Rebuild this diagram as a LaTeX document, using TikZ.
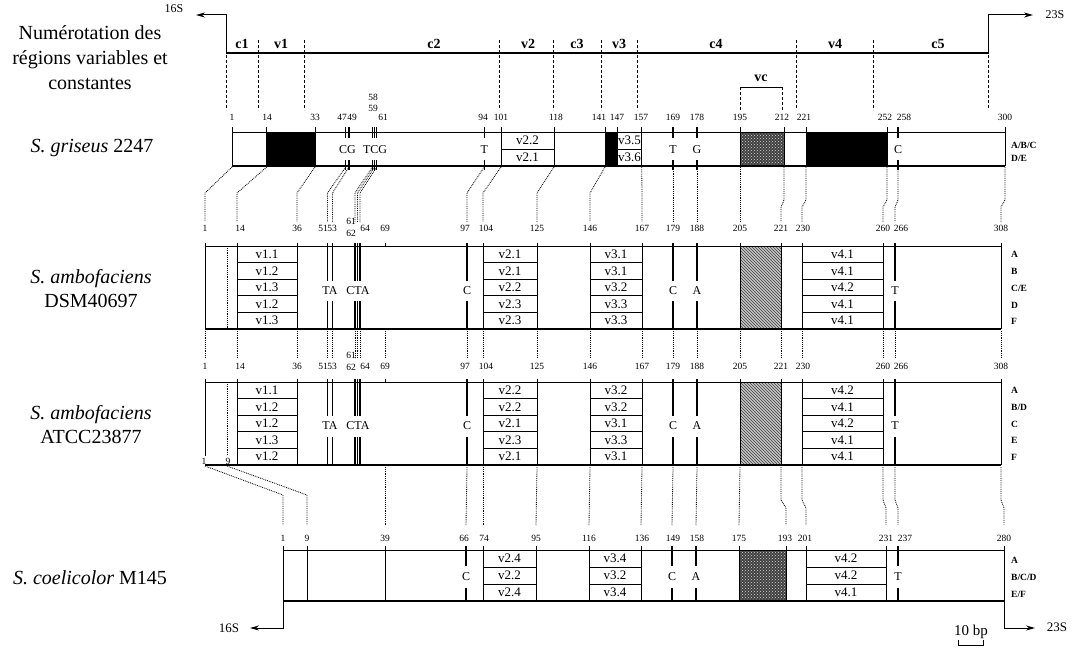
\documentclass[tikz,border=0pt]{standalone}
\usepackage{fontspec}
\setmainfont{Liberation Serif}
\usetikzlibrary{arrows.meta,patterns}
\tikzset{
  box/.style={line width=0.8pt},
  botline/.style={line width=1.5pt},
  siteline/.style={line width=1.1pt},
  conn/.style={densely dotted, line width=0.85pt},
  sep/.style={densely dashed, line width=0.6pt},
  num/.style={font=\fontsize{9.5}{9.5}\selectfont, inner sep=0pt},
  vlab/.style={font=\fontsize{13}{13}\selectfont, inner sep=0pt},
  sitelab/.style={font=\fontsize{12}{12}\selectfont, inner sep=0pt, fill=white, inner ysep=2pt},
  rowlab/.style={font=\fontsize{9.5}{9.5}\selectfont\bfseries, inner sep=0pt, anchor=west},
  reglab/.style={font=\fontsize{14}{14}\selectfont\bfseries, inner sep=0pt, anchor=base},
  species/.style={font=\fontsize{20}{24}\selectfont, inner sep=0pt, align=center},
  genelab/.style={font=\fontsize{12}{12}\selectfont, inner sep=0pt},
  arr/.style={line width=1pt, -{Stealth[length=9pt,width=5pt]}},
}
\newcommand{\regbox}[6]{%
  \foreach \lab [count=\i from 0] in {#5}{%
    \draw[box] (#1,{#3+\i*#4}) rectangle (#2,{#3+(\i+1)*#4});
    \node[vlab] (#6\i) at ({(#1+#2)/2},{#3+(\i+0.5)*#4}) {\lab};
  }}
\begin{document}
\begin{tikzpicture}[x=1pt,y=-1pt]
\useasboundingbox (0,0) rectangle (1073,650);

% ---------- header ----------
\node[species, font=\fontsize{20}{25}\selectfont] (hdr) at (90,58) {Numérotation des\\régions variables et\\constantes};
\draw[line width=2.2pt] (226,53) -- (988,53);
\coordinate (t16) at (196,15);
\coordinate (t23) at (1033,15);
\draw[arr] (226,54) -- (226,15) -- (t16);
\draw[arr] (988,54) -- (988,15) -- (t23);
\node[genelab, font=\fontsize{12}{12}\selectfont] (l16t) at (174,9) {16S};
\node[genelab] (l23t) at (1055,15) {23S};
\foreach \x in {226,258,304,499,553,601,637,796,873,988}
  \draw[sep] (\x,40) -- (\x,110);
\foreach \x/\t/\n in {242/c1/rc1,281/v1/rv1,434/c2/rc2,528/v2/rv2,577/c3/rc3,619/v3/rv3,716/c4/rc4,835/v4/rv4,938/c5/rc5}
  \node[reglab] (\n) at (\x,49) {\t};
\draw[line width=0.7pt] (740,87) -- (782,87);
\draw[sep] (740,87) -- (740,110) (782,87) -- (782,110);
\node[reglab] (rvc) at (761,82) {vc};

% ---------- S. griseus ----------
\node[species] (sg) at (92,148) {\textit{S. griseus} 2247};
\fill (266.7,132) rectangle (315,166);
\fill (605,132) rectangle (617,166);
\fill (806,132) rectangle (887,166);
\fill[black!75] (740,132) rectangle (784,166);
\fill[pattern=crosshatch dots, pattern color=white!85!black] (740,132) rectangle (784,166);
\draw[box] (232,132) -- (1005,132);
\draw[botline] (232,166) -- (1005,166);
\foreach \x in {232,266.7,315,501,554,605,617,641.7,740,784,806,887,1005}
  \draw[box] (\x,127) -- (\x,166);
\draw[box] (501,149) -- (554,149);
\draw[box] (617,149) -- (641.7,149);
\node[vlab] (g22) at (527.5,140.5) {v2.2};
\node[vlab] (g21) at (527.5,157.5) {v2.1};
\node[vlab] (g35) at (629.5,140.5) {v3.5};
\node[vlab] (g36) at (629.5,157.5) {v3.6};
\foreach \x in {345.7,349,372.5,374.5,376.7,484.3,673,697,898}
  \draw[siteline] (\x,127) -- (\x,138) (\x,160) -- (\x,170);
\foreach \x/\t/\n in {347.5/CG/gs1,375/TCG/gs2,484.3/T/gs3,673/T/gs4,697/G/gs5,898/C/gs6}
  \node[sitelab] (\n) at (\x,150) {\t};
\foreach \x/\t in {232/1,267/14,315/33,342/47,352/49,383/61,483/94,501/101,556/118,599/141,617/147,641/157,673/169,697/178,740/195,782/212,804/221,885/252,904/258,1005/300}
  \node[num] (gn\t) at (\x,117) {\t};
\node[num] (gn58) at (373,97) {58};
\node[num] (gn59) at (373,108) {59};
\node[rowlab] (gr1) at (1011,145) {A/B/C};
\node[rowlab] (gr2) at (1011,158) {D/E};

% connectors griseus -> DSM
\foreach \a/\b in {232/205,266.7/237,315/297,345.7/327.5,349/332.5,372.5/355,374.5/357.5,376.7/360,484.3/467,501/483,554/537,605/590,641.7/642,673/673,697/697,740/740}
  \draw[conn] (\a,167) -- (\b,193) -- (\b,222);
\foreach \a/\b in {784/781,806/802,887/883,898/895,1005/1001}
  \draw[conn] (\a,167) -- (\a,200) -- (\b,207) -- (\b,222);

% ---------- S. ambofaciens DSM40697 ----------
\node[species] (sd) at (91,289) {\textit{S. ambofaciens}\\DSM40697};
\fill[gray!45] (740,246) rectangle (781,329);
\fill[pattern=north west lines, pattern color=black!75] (740,246) rectangle (781,329);
\draw[box] (205,246) -- (1001,246);
\draw[botline] (205,329) -- (1001,329);
\draw[box] (205,243) -- (205,329);
\draw[box] (1001,243) -- (1001,329);
\draw[conn] (227,246) -- (227,329);
\regbox{237}{297}{246}{16.6}{v1.1,v1.2,v1.3,v1.2,v1.3}{dv1}
\regbox{483}{537}{246}{16.6}{v2.1,v2.1,v2.2,v2.3,v2.3}{dv2}
\regbox{590}{642}{246}{16.6}{v3.1,v3.1,v3.2,v3.3,v3.3}{dv3}
\regbox{802}{883}{246}{16.6}{v4.1,v4.1,v4.2,v4.1,v4.1}{dv4}
\foreach \x in {237,297,385,483,537,590,642,740,781,802,883}
  \draw[box] (\x,243) -- (\x,247);
\draw[box] (740,246) -- (740,329) (781,246) -- (781,329);
\foreach \x in {327.5,332.5,355,357.5,360,467,673,697,895}
  \draw[siteline] (\x,243) -- (\x,281) (\x,301) -- (\x,329);
\foreach \x/\t/\n in {330/TA/ds1,358/CTA/ds2,467/C/ds3,673/C/ds4,697/A/ds5,895/T/ds6}
  \node[sitelab] (\n) at (\x,291) {\t};
\foreach \x/\t in {205/1,240/14,297/36,323/51,332/53,365/64,385/69,465/97,486/104,537/125,590/146,642/167,673/179,697/188,740/205,781/221,803/230,883/260,901/266,1001/308}
  \node[num] (dn\t) at (\x,228) {\t};
\node[num] (dn61) at (351,221) {61};
\node[num] (dn62) at (351,233) {62};
\foreach \y/\t/\n in {254/A/dr1,271/B/dr2,288/C\slash E/dr3,305/D/dr4,321/F/dr5}
  \node[rowlab] (\n) at (1011,\y) {\t};

% connectors DSM -> ATCC
\foreach \x in {205,237,297,327.5,332.5,355,357.5,360,385,467,483,537,590,642,673,697,740,781,802,883,895,1001}
  \draw[conn] (\x,331) -- (\x,357);

% ---------- S. ambofaciens ATCC23877 ----------
\node[species] (sa) at (91,425) {\textit{S. ambofaciens}\\ATCC23877};
\fill[gray!45] (740,382) rectangle (781,465);
\fill[pattern=north west lines, pattern color=black!75] (740,382) rectangle (781,465);
\draw[box] (205,382) -- (1001,382);
\draw[botline] (205,465) -- (1001,465);
\draw[box] (205,379) -- (205,456);
\draw[box] (1001,379) -- (1001,465);
\draw[conn] (227,382) -- (227,455);
\regbox{237}{297}{382}{16.6}{v1.1,v1.2,v1.2,v1.3,v1.2}{av1}
\regbox{483}{537}{382}{16.6}{v2.2,v2.2,v2.1,v2.3,v2.1}{av2}
\regbox{590}{642}{382}{16.6}{v3.2,v3.2,v3.1,v3.3,v3.1}{av3}
\regbox{802}{883}{382}{16.6}{v4.2,v4.1,v4.2,v4.1,v4.1}{av4}
\foreach \x in {237,297,385,483,537,590,642,740,781,802,883}
  \draw[box] (\x,379) -- (\x,383);
\draw[box] (740,382) -- (740,465) (781,382) -- (781,465);
\foreach \x in {327.5,332.5,355,357.5,360,467,673,697,895}
  \draw[siteline] (\x,379) -- (\x,416) (\x,437) -- (\x,465);
\foreach \x/\t/\n in {330/TA/as1,358/CTA/as2,467/C/as3,673/C/as4,697/A/as5,895/T/as6}
  \node[sitelab] (\n) at (\x,426) {\t};
\foreach \x/\t in {205/1,240/14,297/36,323/51,332/53,365/64,385/69,465/97,486/104,537/125,590/146,642/167,673/179,697/188,740/205,781/221,803/230,883/260,901/266,1001/308}
  \node[num] (an\t) at (\x,366) {\t};
\node[num] (an61) at (351,355) {61};
\node[num] (an62) at (351,367) {62};
\node[num] (ab1) at (204,461) {1};
\node[num] (ab9) at (228,461) {9};
\foreach \y/\t/\n in {390/A/ar1,407/B\slash D/ar2,424/C/ar3,440/E/ar4,457/F/ar5}
  \node[rowlab] (\n) at (1011,\y) {\t};

% connectors ATCC -> coelicolor
\draw[conn] (205,466) -- (283,495) -- (283,525);
\draw[conn] (227,466) -- (307,495) -- (307,525);
\foreach \a/\b in {385/385,467/466,483/483,537/536,590/589,642/641,673/672,697/696,740/739}
  \draw[conn] (\a,467) -- (\b,525);
\foreach \a/\b in {781/786,802/806,883/886,895/898,1001/1004}
  \draw[conn] (\a,467) -- (\a,500) -- (\b,508) -- (\b,525);

% ---------- S. coelicolor M145 ----------
\node[species] (sc) at (90,578) {\textit{S. coelicolor} M145};
\fill[black!75] (739,550) rectangle (786,601);
\fill[pattern=crosshatch dots, pattern color=white!85!black] (739,550) rectangle (786,601);
\draw[box] (283,550) -- (1004,550);
\draw[botline] (283,601) -- (1004,601);
\foreach \x in {283,307,385,739,786,1004}
  \draw[box] (\x,546) -- (\x,601);
\regbox{483}{536}{550}{17}{v2.4,v2.2,v2.4}{cv2}
\regbox{589}{641}{550}{17}{v3.4,v3.2,v3.4}{cv3}
\regbox{806}{886}{550}{17}{v4.2,v4.2,v4.1}{cv4}
\foreach \x in {483,536,589,641,806,886}
  \draw[box] (\x,546) -- (\x,551);
\foreach \x in {466,672,696,898}
  \draw[siteline] (\x,546) -- (\x,566) (\x,588) -- (\x,601);
\foreach \x/\t/\n in {466/C/cs1,672/C/cs2,696/A/cs3,898/T/cs4}
  \node[sitelab] (\n) at (\x,577) {\t};
\foreach \x/\t in {283/1,307/9,385/39,464/66,484/74,536/95,589/116,642/136,673/149,697/158,739/175,785/193,805/201,886/231,905/237,1004/280}
  \node[num] (cn\t) at (\x,538) {\t};
\foreach \y/\t/\n in {560/A/cr1,577/B\slash C\slash D/cr2,594/E\slash F/cr3}
  \node[rowlab] (\n) at (1011,\y) {\t};

% bottom arrows and scale
\coordinate (b16) at (250,628);
\coordinate (b23) at (1035,628);
\draw[arr] (283,600) -- (283,628) -- (b16);
\draw[arr] (1004,600) -- (1004,628) -- (b23);
\node[genelab, font=\fontsize{13}{13}\selectfont] (l16b) at (229,628) {16S};
\node[genelab, font=\fontsize{13}{13}\selectfont] (l23b) at (1057,627) {23S};
\node[genelab, font=\fontsize{15}{15}\selectfont] (sbar) at (971,632) {10 bp};
\draw[line width=0.8pt] (958,640) -- (958,645) -- (983,645) -- (983,640);
\end{tikzpicture}
\end{document}
